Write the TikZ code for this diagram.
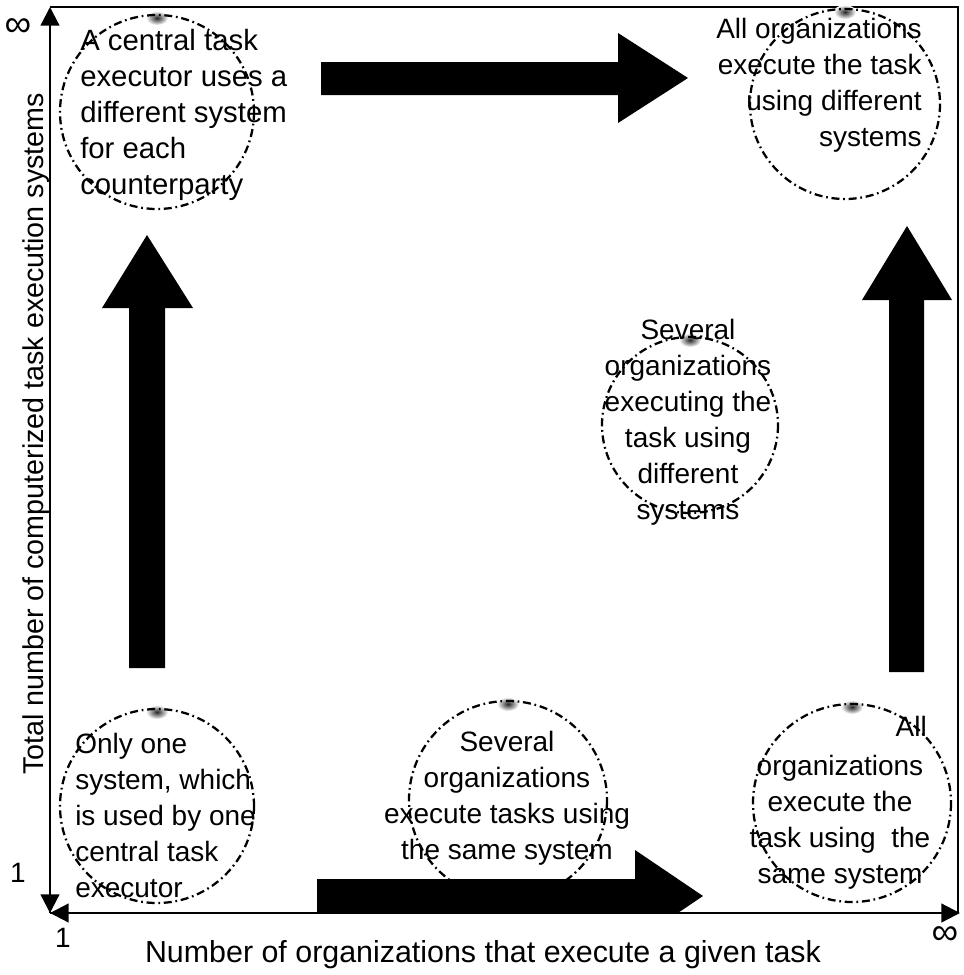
\documentclass[tikz,border=0pt]{standalone}
\usepackage{fontspec}
\setmainfont{Liberation Sans}
\usetikzlibrary{arrows.meta}
\begin{document}
\begin{tikzpicture}[x=0.75pt,y=-0.75pt,
  lbl/.style={inner sep=0pt, font=\fontsize{21}{27}\selectfont},
  biglbl/.style={inner sep=0pt, font=\fontsize{22}{27}\selectfont},
  sym/.style={inner sep=0pt, font=\fontsize{28}{30}\selectfont},
  ring/.style={draw, line width=1.7pt, dash pattern=on 6pt off 2.8pt on 1.3pt off 2.8pt},
  smudge/.style={inner color=black!85, outer color=white},
  block/.style={fill=black},
  axis/.style={line width=1.7pt, -{Triangle[length=14pt,width=14pt]}},
  frameline/.style={line width=1.2pt}]
\useasboundingbox (0,0) rectangle (964,975);
% corners
\coordinate (O) at (50,913);
\coordinate (Ytop) at (50,7);
\coordinate (Xend) at (960,913);
\coordinate (TR) at (958,7);
\coordinate (BRc) at (958,913);
% block arrows
\fill[block] (321,62) -- (618,62) -- (618,33) -- (688,78) -- (618,123) -- (618,95) -- (321,95) -- cycle;
\fill[block] (129,668) -- (129,308) -- (102,308) -- (147,235) -- (193,308) -- (165,308) -- (165,668) -- cycle;
\fill[block] (889,672) -- (889,300) -- (862,300) -- (907,226) -- (952,300) -- (924,300) -- (924,672) -- cycle;
\begin{scope}
\clip (0,0) rectangle (964,912);
\fill[block] (317,879) -- (635,879) -- (635,850) -- (703,896) -- (635,942) -- (635,913) -- (317,913) -- cycle;
\end{scope}
% frame and axes
\draw[frameline] (Ytop) -- (TR) -- (BRc);
\draw[axis] (O) -- (Ytop);
\draw[axis] (O) -- (Xend);
\draw[line width=1.7pt, {Triangle[length=14pt,width=14pt]}-] (O) -- +(0,-30);
\draw[line width=1.7pt, {Triangle[length=14pt,width=14pt]}-] (O) -- +(30,0);
% circles
\foreach \n/\cx/\cy/\r in {c1/157/112/97, c2/845/104/95, c3/690/425/88, c4/157/806/97, c5/508/800/99, c6/852/803/99}{
  \shade[smudge] (\cx,\cy-\r+3) ellipse[x radius=11, y radius=7];
  \draw[ring] (\cx,\cy) circle[radius=\r];
  \coordinate (\n) at (\cx,\cy);
}
% texts
\node[biglbl, anchor=west, align=left] (t1) at (80,115) {A central task\\executor uses a\\different system\\for each\\counterparty};
\node[lbl, anchor=east, align=right] (t2) at (922,85) {All organizations\\execute the task\\using different\\systems};
\node[lbl, align=center] (t3) at (688,422) {Several\\organizations\\executing the\\task using\\different\\systems};
\node[lbl, anchor=west, align=left] (t4) at (75,815) {Only one\\system, which\\is used by one\\central task\\executor};
\node[lbl, align=center] (t5) at (507,798) {Several\\organizations\\execute tasks using\\the same system};
\node[lbl, anchor=east] (t6a) at (927,726) {All};
\node[lbl, align=center] (t6) at (840,822) {organizations\\execute the\\task using\ \ the\\same system};
% axis labels
\node[lbl, rotate=90, font=\fontsize{21.5}{27}\selectfont] (ylab) at (36,434) {Total number of computerized task execution systems};
\node[lbl, font=\fontsize{22.8}{27}\selectfont] (xlab) at (483,955) {Number of organizations that execute a given task};
\node[sym] (yinf) at (18,28) {∞};
\node[lbl] (yone) at (18,873) {1};
\node[lbl] (xone) at (63,938) {1};
\node[sym] (xinf) at (945,936) {∞};
\end{tikzpicture}
\end{document}
